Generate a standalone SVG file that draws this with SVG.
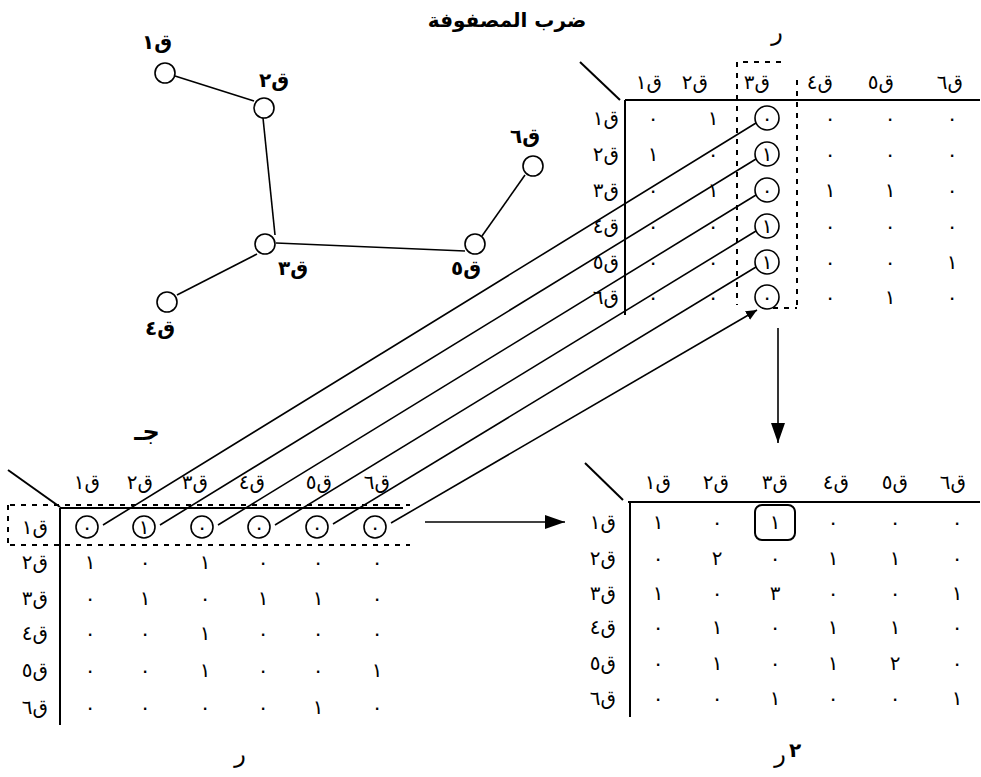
<svg xmlns="http://www.w3.org/2000/svg" width="981" height="777" viewBox="0 0 981 777">
<defs>
<style>
.t{font-family:"DejaVu Sans",sans-serif;font-size:20px;text-anchor:middle;fill:#000}
.t text,text.t{direction:ltr;unicode-bidi:bidi-override}
text.j{unicode-bidi:normal;direction:rtl}
.b{font-weight:bold;font-size:20px}
.big{font-size:24px}
.ttl{font-family:"DejaVu Sans",sans-serif;font-size:20px;font-weight:bold;text-anchor:middle}
.ln{stroke:#000;stroke-width:1.6;fill:none}
.mx{stroke:#000;stroke-width:2;fill:none}
.ds{stroke:#000;stroke-width:2;stroke-dasharray:5 6;fill:none}
.c{stroke:#000;stroke-width:1.6;fill:#fff}
</style>
<marker id="ah" markerUnits="userSpaceOnUse" markerWidth="22" markerHeight="14" refX="20" refY="7" orient="auto"><path d="M0,0 L20,7 L0,14 Z" fill="#000"/></marker>
<marker id="as" markerUnits="userSpaceOnUse" markerWidth="12" markerHeight="10" refX="11" refY="5" orient="auto"><path d="M0,0 L11,5 L0,10 Z" fill="#000"/></marker>
</defs>
<rect width="981" height="777" fill="#fff"/>
<text class="ttl" x="507" y="27">ضرب المصفوفة</text>

<g id="connectors">
<line class="ln" x1="175" y1="76" x2="254" y2="101"/>
<line class="ln" x1="263" y1="118" x2="275" y2="235"/>
<line class="ln" x1="276" y1="243" x2="465" y2="251"/>
<line class="ln" x1="257" y1="254" x2="177" y2="295"/>
<line class="ln" x1="482" y1="236" x2="525" y2="175"/>
<line class="ln" x1="103" y1="525" x2="756" y2="123"/>
<line class="ln" x1="160" y1="525" x2="756" y2="159"/>
<line class="ln" x1="218" y1="525" x2="756" y2="195"/>
<line class="ln" x1="275" y1="525" x2="756" y2="231"/>
<line class="ln" x1="333" y1="524" x2="756" y2="267"/>
<line class="ln" x1="391" y1="523" x2="757" y2="310" marker-end="url(#as)"/>
<line class="ln" x1="778" y1="328" x2="778" y2="443" marker-end="url(#ah)"/>
<line class="ln" x1="425" y1="522" x2="565" y2="522" marker-end="url(#ah)"/>
</g>

<g id="node-q1"><circle class="c" cx="165" cy="73" r="10"/><text class="t b" x="157" y="49">١ق</text></g>
<g id="node-q2"><circle class="c" cx="264" cy="108" r="10"/><text class="t b" x="274" y="87">٢ق</text></g>
<g id="node-q3"><circle class="c" cx="265" cy="244" r="10"/><text class="t b" x="293" y="275">٣ق</text></g>
<g id="node-q4"><circle class="c" cx="167" cy="302" r="10"/><text class="t b" x="160" y="335">٤ق</text></g>
<g id="node-q5"><circle class="c" cx="475" cy="244" r="10"/><text class="t b" x="466" y="275">٥ق</text></g>
<g id="node-q6"><circle class="c" cx="533" cy="166" r="10"/><text class="t b" x="525" y="143">٦ق</text></g>

<g id="matrix-top">
<text class="t big" x="777" y="40">ر</text>
<line class="mx" x1="580" y1="62" x2="620" y2="100"/>
<line class="mx" x1="625" y1="100" x2="980" y2="100"/>
<line class="mx" x1="625" y1="100" x2="625" y2="315"/>
<line class="ds" x1="737" y1="62" x2="737" y2="305"/>
<line class="ds" x1="797" y1="80" x2="797" y2="305"/>
<line class="ds" x1="743" y1="62" x2="782" y2="62"/>
<line class="ds" x1="762" y1="308" x2="797" y2="308"/>
<g class="t">
<text x="649" y="89">١ق</text><text x="695" y="89">٢ق</text><text x="757" y="89">٣ق</text><text x="820" y="89">٤ق</text><text x="881" y="89">٥ق</text><text x="950" y="89">٦ق</text>
<text x="606" y="125">١ق</text><text x="606" y="161">٢ق</text><text x="606" y="197">٣ق</text><text x="606" y="233">٤ق</text><text x="606" y="269">٥ق</text><text x="606" y="304">٦ق</text>
</g>
<g>
<circle class="c" cx="767" cy="118" r="12"/><circle class="c" cx="767" cy="154" r="12"/><circle class="c" cx="767" cy="190" r="12"/><circle class="c" cx="767" cy="226" r="12"/><circle class="c" cx="767" cy="262" r="12"/><circle class="c" cx="767" cy="297" r="12"/>
</g>
<g class="t">
<text x="653" y="125">٠</text><text x="713" y="125">١</text><text x="767" y="125">٠</text><text x="830" y="125">٠</text><text x="890" y="125">٠</text><text x="952" y="125">٠</text>
<text x="653" y="161">١</text><text x="713" y="161">٠</text><text x="767" y="161">١</text><text x="830" y="161">٠</text><text x="890" y="161">٠</text><text x="952" y="161">٠</text>
<text x="653" y="197">٠</text><text x="713" y="197">١</text><text x="767" y="197">٠</text><text x="830" y="197">١</text><text x="890" y="197">١</text><text x="952" y="197">٠</text>
<text x="653" y="233">٠</text><text x="713" y="233">٠</text><text x="767" y="233">١</text><text x="830" y="233">٠</text><text x="890" y="233">٠</text><text x="952" y="233">٠</text>
<text x="653" y="269">٠</text><text x="713" y="269">٠</text><text x="767" y="269">١</text><text x="830" y="269">٠</text><text x="890" y="269">٠</text><text x="952" y="269">١</text>
<text x="653" y="304">٠</text><text x="713" y="304">٠</text><text x="767" y="304">٠</text><text x="830" y="304">٠</text><text x="890" y="304">١</text><text x="952" y="304">٠</text>
</g>
</g>

<g id="matrix-left">
<text class="t b big j" x="147" y="440">جـ</text>
<text class="t big" x="240" y="762">ر</text>
<line class="mx" x1="8" y1="470" x2="60" y2="507"/>
<line class="mx" x1="60" y1="508" x2="403" y2="508"/>
<line class="mx" x1="60" y1="508" x2="60" y2="725"/>
<line class="ds" x1="10" y1="505" x2="410" y2="505"/>
<line class="ds" x1="10" y1="545" x2="410" y2="545"/>
<line class="ds" x1="8" y1="505" x2="8" y2="545"/>
<g class="t">
<text x="87" y="489">١ق</text><text x="140" y="489">٢ق</text><text x="195" y="489">٣ق</text><text x="252" y="489">٤ق</text><text x="319" y="489">٥ق</text><text x="377" y="489">٦ق</text>
<text x="35" y="534">١ق</text><text x="35" y="569">٢ق</text><text x="35" y="605">٣ق</text><text x="35" y="640">٤ق</text><text x="35" y="677">٥ق</text><text x="35" y="714">٦ق</text>
</g>
<g>
<circle class="c" cx="87" cy="527" r="11"/><circle class="c" cx="144" cy="527" r="11"/><circle class="c" cx="202" cy="527" r="11"/><circle class="c" cx="259" cy="527" r="11"/><circle class="c" cx="317" cy="527" r="11"/><circle class="c" cx="375" cy="527" r="11"/>
</g>
<g class="t">
<text x="87" y="534">٠</text><text x="144" y="534">١</text><text x="202" y="534">٠</text><text x="259" y="534">٠</text><text x="317" y="534">٠</text><text x="375" y="534">٠</text>
<text x="90" y="569">١</text><text x="145" y="569">٠</text><text x="205" y="569">١</text><text x="263" y="569">٠</text><text x="318" y="569">٠</text><text x="377" y="569">٠</text>
<text x="90" y="605">٠</text><text x="145" y="605">١</text><text x="205" y="605">٠</text><text x="263" y="605">١</text><text x="318" y="605">١</text><text x="377" y="605">٠</text>
<text x="90" y="640">٠</text><text x="145" y="640">٠</text><text x="205" y="640">١</text><text x="263" y="640">٠</text><text x="318" y="640">٠</text><text x="377" y="640">٠</text>
<text x="90" y="677">٠</text><text x="145" y="677">٠</text><text x="205" y="677">١</text><text x="263" y="677">٠</text><text x="318" y="677">٠</text><text x="377" y="677">١</text>
<text x="90" y="714">٠</text><text x="145" y="714">٠</text><text x="205" y="714">٠</text><text x="263" y="714">٠</text><text x="318" y="714">١</text><text x="377" y="714">٠</text>
</g>
</g>

<g id="matrix-result">
<text class="t big" x="780" y="762">ر</text><text class="t b" x="795" y="757">٢</text>
<line class="mx" x1="585" y1="463" x2="623" y2="500"/>
<line class="mx" x1="628" y1="502" x2="980" y2="502"/>
<line class="mx" x1="630" y1="502" x2="630" y2="717"/>
<rect class="mx" x="755" y="505" width="40" height="35" rx="7"/>
<g class="t">
<text x="658" y="489">١ق</text><text x="716" y="489">٢ق</text><text x="775" y="489">٣ق</text><text x="836" y="489">٤ق</text><text x="895" y="489">٥ق</text><text x="953" y="489">٦ق</text>
<text x="603" y="529">١ق</text><text x="603" y="565">٢ق</text><text x="603" y="600">٣ق</text><text x="603" y="634">٤ق</text><text x="603" y="670">٥ق</text><text x="603" y="705">٦ق</text>
<text x="658" y="529">١</text><text x="717" y="529">٠</text><text x="775" y="529">١</text><text x="833" y="529">٠</text><text x="895" y="529">٠</text><text x="957" y="529">٠</text>
<text x="658" y="565">٠</text><text x="717" y="565">٢</text><text x="775" y="565">٠</text><text x="833" y="565">١</text><text x="895" y="565">١</text><text x="957" y="565">٠</text>
<text x="658" y="600">١</text><text x="717" y="600">٠</text><text x="775" y="600">٣</text><text x="833" y="600">٠</text><text x="895" y="600">٠</text><text x="957" y="600">١</text>
<text x="658" y="634">٠</text><text x="717" y="634">١</text><text x="775" y="634">٠</text><text x="833" y="634">١</text><text x="895" y="634">١</text><text x="957" y="634">٠</text>
<text x="658" y="670">٠</text><text x="717" y="670">١</text><text x="775" y="670">٠</text><text x="833" y="670">١</text><text x="895" y="670">٢</text><text x="957" y="670">٠</text>
<text x="658" y="705">٠</text><text x="717" y="705">٠</text><text x="775" y="705">١</text><text x="833" y="705">٠</text><text x="895" y="705">٠</text><text x="957" y="705">١</text>
</g>
</g>
</svg>
